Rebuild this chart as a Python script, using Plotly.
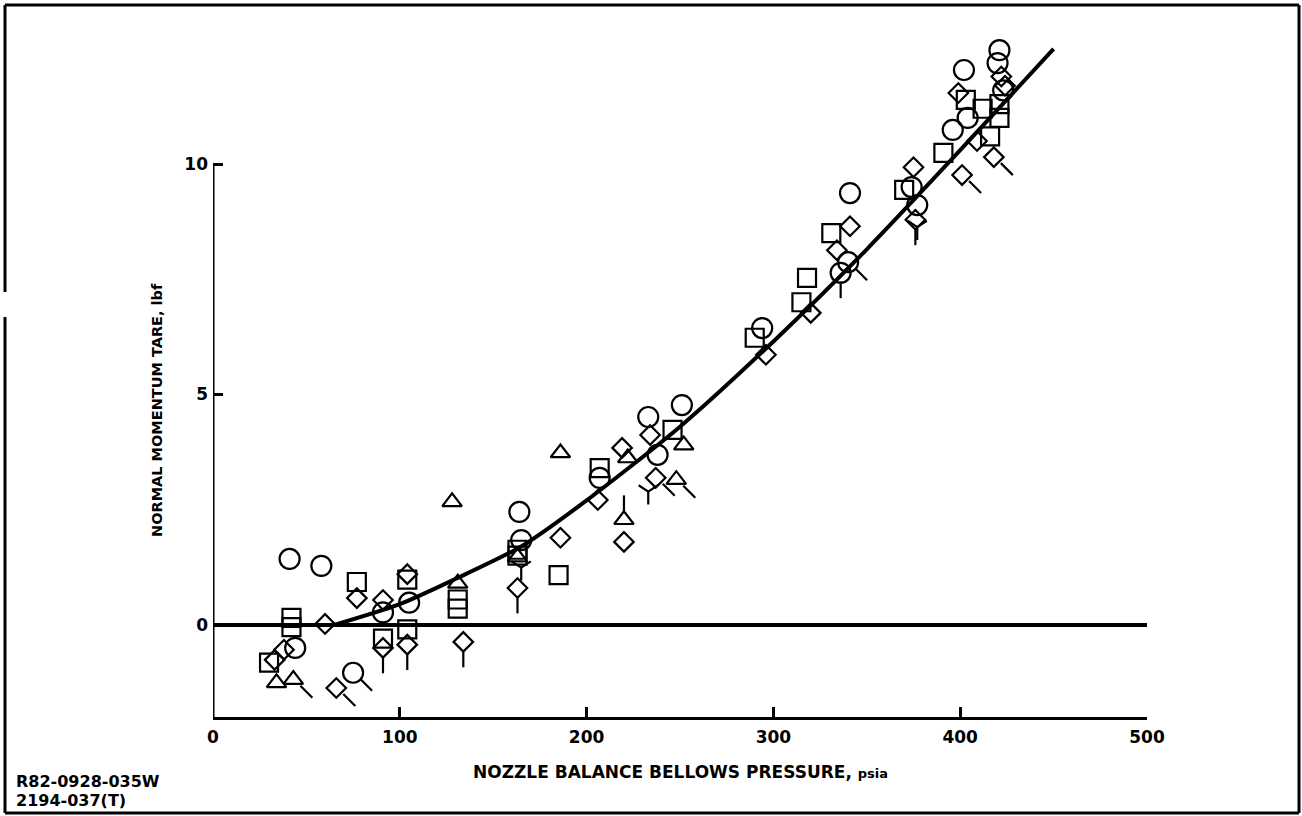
import plotly.graph_objects as go

# page / plot-area geometry (px)
W, H = 1302, 816
ML, MR, MT, MB = 213, 155, 35, 99
X_RANGE = [0, 500]
Y_RANGE = [-2, 12.8]

x_ticks = [0, 100, 200, 300, 400, 500]
y_ticks = [0, 5, 10]

# faired curve
curve_x = [65, 100, 130, 165, 200, 250, 300, 350, 400, 450]
curve_y = [0.0, 0.45, 1.0, 1.7, 2.7, 4.3, 6.15, 8.15, 10.3, 12.5]

# test points by symbol
circle_x = [41, 58, 44, 91, 105, 75, 164, 165, 207, 233, 238, 251, 294, 336, 340, 341,
            374, 377, 396, 402, 404, 420, 421, 423]
circle_y = [1.43, 1.28, -0.5, 0.27, 0.48, -1.04, 2.45, 1.84, 3.19, 4.51, 3.69, 4.77, 6.44,
            7.64, 7.87, 9.37, 9.5, 9.11, 10.74, 12.04, 11.0, 12.19, 12.47, 11.6]

square_x = [42, 42, 30, 77, 91, 104, 104, 131, 131, 163, 163, 185, 207, 246, 290, 318, 315,
            331, 370, 391, 403, 412, 416, 421, 421]
square_y = [0.15, -0.05, -0.82, 0.93, -0.3, 0.98, -0.1, 0.55, 0.35, 1.63, 1.5, 1.08, 3.4,
            4.23, 6.23, 7.53, 7.0, 8.5, 9.44, 10.24, 11.39, 11.2, 10.6, 11.3, 11.0]

diamond_x = [60, 77, 38, 33, 66, 91, 91, 104, 104, 134, 163, 186, 206, 220, 219, 234, 237,
             296, 320, 334, 341, 375, 376, 401, 399, 418, 409, 422, 424]
diamond_y = [0.02, 0.58, -0.54, -0.76, -1.37, 0.54, -0.5, 1.1, -0.43, -0.37, 0.8, 1.89,
             2.71, 1.8, 3.84, 4.12, 3.19, 5.86, 6.77, 8.13, 8.65, 9.93, 8.79, 9.76, 11.54,
             10.15, 10.5, 11.9, 11.7]

triangle_x = [34, 43, 131, 128, 163, 186, 220, 222, 252, 248]
triangle_y = [-1.26, -1.19, 0.9, 2.67, 1.47, 3.73, 2.28, 3.62, 3.9, 3.15]

ydown_x = [165, 233, 377]
ydown_y = [1.24, 2.89, 8.63]

# flagged points: v = tail down, d = tail down-right, u = tail up
flag_x = [75, 66, 43, 91, 104, 134, 163, 237, 248, 220, 336, 340, 376, 401, 418]
flag_y = [-1.04, -1.37, -1.19, -0.5, -0.43, -0.37, 0.8, 3.19, 3.15, 2.28, 7.64, 7.87,
          8.79, 9.76, 10.15]
flag_dir = ["d", "d", "d", "v", "v", "v", "v", "d", "d", "u", "v", "d", "v", "d", "d"]

FONT = "DejaVu Sans"
LW = 2.2

pw = W - ML - MR
ph = H - MT - MB
px_x = pw / (X_RANGE[1] - X_RANGE[0])
px_y = ph / (Y_RANGE[1] - Y_RANGE[0])


def paper_x(p):
    return (p - ML) / pw


def paper_y(p):
    return (H - MB - p) / ph


fig = go.Figure()

fig.add_trace(go.Scatter(x=curve_x, y=curve_y, mode="lines",
                         line=dict(color="black", width=4, shape="spline", smoothing=0.7),
                         hoverinfo="skip"))


def pts(x, y, symbol, size):
    fig.add_trace(go.Scatter(x=x, y=y, mode="markers", cliponaxis=False,
                             marker=dict(symbol=symbol, size=size, color="black",
                                         line=dict(width=LW, color="black"))))


pts(circle_x, circle_y, "circle-open", 20)
pts(square_x, square_y, "square-open", 18)
pts(diamond_x, diamond_y, "diamond-open", 15)
pts(triangle_x, triangle_y, "triangle-up-open", 17)
pts(ydown_x, ydown_y, "y-down-open", 16)

# flag tails, offset from their points in pixels
for d, sym, dxp, dyp in [("v", "line-ns-open", 0, -17), ("u", "line-ns-open", 0, 16),
                         ("d", "line-nw-open", 13, -12)]:
    tx = [x + dxp / px_x for x, k in zip(flag_x, flag_dir) if k == d]
    ty = [y + dyp / px_y for y, k in zip(flag_y, flag_dir) if k == d]
    fig.add_trace(go.Scatter(x=tx, y=ty, mode="markers", cliponaxis=False,
                             marker=dict(symbol=sym, size=12, color="black",
                                         line=dict(width=LW, color="black"))))

shapes = [
    # y axis line only up to the top tick
    dict(type="line", xref="x", yref="y", x0=0, x1=0, y0=Y_RANGE[0], y1=max(y_ticks),
         line=dict(color="black", width=3)),
]
# scanned frame around the figure (gap in left edge)
frame = [(5, 5, 1299, 5), (1299, 5, 1299, 813), (1299, 813, 5, 813),
         (5, 813, 5, 317), (5, 292, 5, 5)]
for x0, y0, x1, y1 in frame:
    shapes.append(dict(type="line", xref="paper", yref="paper",
                       x0=paper_x(x0), y0=paper_y(y0), x1=paper_x(x1), y1=paper_y(y1),
                       line=dict(color="black", width=3)))

annotations = [
    dict(text="NORMAL MOMENTUM TARE, lbf", textangle=-90, xref="paper", yref="paper",
         x=paper_x(157), y=paper_y(410), xanchor="center", yanchor="middle",
         showarrow=False, font=dict(family=FONT, size=14.5, color="black", weight="bold")),
    dict(text="NOZZLE BALANCE BELLOWS PRESSURE, <span style='font-size:13px'>psia</span>",
         xref="paper", yref="paper", x=paper_x(680), y=paper_y(772),
         xanchor="center", yanchor="middle", showarrow=False,
         font=dict(family=FONT, size=17, color="black", weight="bold")),
    dict(text="R82-0928-035W", xref="paper", yref="paper", x=paper_x(14), y=paper_y(781),
         xanchor="left", yanchor="middle", showarrow=False,
         font=dict(family=FONT, size=16, color="black", weight="bold")),
    dict(text="2194-037(T)", xref="paper", yref="paper", x=paper_x(14), y=paper_y(801),
         xanchor="left", yanchor="middle", showarrow=False,
         font=dict(family=FONT, size=16, color="black", weight="bold")),
]

fig.update_layout(
    width=W, height=H, margin=dict(l=ML, r=MR, t=MT, b=MB),
    paper_bgcolor="white", plot_bgcolor="white", showlegend=False,
    shapes=shapes, annotations=annotations,
    font=dict(family=FONT, size=17, color="black", weight="bold"),
)
fig.update_xaxes(range=X_RANGE, tickvals=x_ticks, ticks="inside", ticklen=10, tickwidth=2.5,
                 tickcolor="black", showline=True, linewidth=3, linecolor="black",
                 showgrid=False, zeroline=False, ticklabelstandoff=3)
fig.update_yaxes(range=Y_RANGE, tickvals=y_ticks, ticks="inside", ticklen=10, tickwidth=2.5,
                 tickcolor="black", showline=False, showgrid=False, zeroline=True,
                 zerolinewidth=4, zerolinecolor="black", ticklabelstandoff=4)

# drop the browser's default 8px body margin so the figure fills the window
fig.write_html("out.html", config={"displayModeBar": False},
               post_script="document.body.style.margin='0px';")
